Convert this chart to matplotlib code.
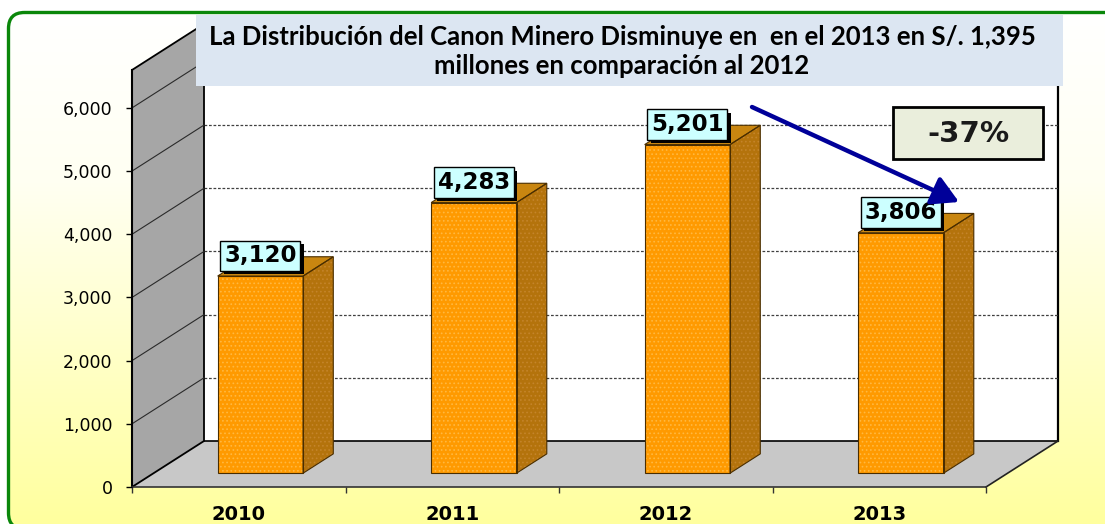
import numpy as np
import matplotlib
matplotlib.use('Agg')
import matplotlib.pyplot as plt
import matplotlib.patheffects as pe
from matplotlib.patches import Polygon, Rectangle, FancyBboxPatch
from matplotlib.ticker import FuncFormatter, FixedLocator
from matplotlib.colors import LinearSegmentedColormap
from matplotlib.transforms import IdentityTransform

# ---------------- data ----------------
years = ['2010', '2011', '2012', '2013']
values = [3120, 4283, 5201, 3806]
y_ticks = [0, 1000, 2000, 3000, 4000, 5000, 6000]
title_lines = ["La Distribución del Canon Minero Disminuye en  en el 2013 en S/. 1,395",
               "millones en comparación al 2012"]
change_label = "-37%"

# ---------------- figure ----------------
W, H = 1105, 524
fig = plt.figure(figsize=(W / 100, H / 100), dpi=100)
fig.patch.set_facecolor('white')

# background panel
bg = fig.add_axes([0, 0, 1, 1], zorder=0)
grad = np.linspace(0, 1, 256).reshape(-1, 1)
cmap = LinearSegmentedColormap.from_list('g', ['#FFFFFF', '#FFFFF2', '#FFFFC8', '#FFFF9E'])
im = bg.imshow(grad, extent=(0, W, H, 12), cmap=cmap, aspect='auto', zorder=1,
               interpolation='bilinear')
bg.set_xlim(0, W)
bg.set_ylim(H, 0)
bg.axis('off')
# rounded green frame in display pixels (origin bottom-left)
box = FancyBboxPatch((8.5, -5), 1300, H - 12.5 + 5, boxstyle='round,pad=0,rounding_size=16',
                     fc='none', ec='#0A870A', lw=2.4, zorder=2,
                     transform=IdentityTransform(), clip_on=False)
bg.add_patch(box)
im.set_clip_path(box)

# main axes = front plane of the 3D box
ax = fig.add_axes([132 / W, 37 / H, 854 / W, 417 / H], zorder=1)
YMAX = 6600
ax.set_xlim(0, len(years))
ax.set_ylim(0, YMAX)
ax.patch.set_alpha(0)

NC = len(years)
DX = 72 / 213.5            # depth offset in category units
DY = 46 * YMAX / 417       # depth offset in value units
f0, f1 = 0.30, 0.72        # bar depth range
bw = 0.40                  # bar width

# back wall
ax.add_patch(Polygon([(DX, DY), (NC + DX, DY), (NC + DX, YMAX + DY), (DX, YMAX + DY)],
                     closed=True, fc='white', ec='none', clip_on=False, zorder=0.5))
ax.plot([NC + DX, NC + DX], [DY, YMAX + DY], color='black', lw=1.6, clip_on=False, zorder=0.6)
# back-wall gridlines
for t in y_ticks[1:]:
    ax.plot([DX, NC + DX], [t + DY, t + DY], ls=(0, (2.2, 1.4)), color='#404040', lw=0.9,
            clip_on=False, zorder=0.6)
# floor
ax.add_patch(Polygon([(0, 0), (NC, 0), (NC + DX, DY), (DX, DY)], closed=True,
                     fc='#C8C8C8', ec='none', clip_on=False, zorder=0.7))
ax.plot([DX, NC + DX], [DY, DY], color='black', lw=1.2, clip_on=False, zorder=0.75)
ax.plot([NC, NC + DX], [0, DY], color='#222222', lw=1.2, clip_on=False, zorder=0.75)
# left wall
ax.add_patch(Polygon([(0, 0), (DX, DY), (DX, YMAX + DY), (0, YMAX)], closed=True,
                     fc='#A6A6A6', ec='black', lw=1.3, clip_on=False, zorder=0.8))
for t in y_ticks[1:]:
    ax.plot([0, DX], [t, t + DY], color='#2a2a2a', lw=0.8, clip_on=False, zorder=0.85)

# bars
plt.rcParams['hatch.linewidth'] = 0.7
for i, v in enumerate(values):
    cx = i + 0.5
    x0 = cx - bw / 2 + f0 * DX
    x1 = x0 + bw
    y0 = f0 * DY
    ddx = (f1 - f0) * DX
    ddy = (f1 - f0) * DY
    z = 2 + i * 0.1
    front = [(x0, y0), (x1, y0), (x1, v + y0), (x0, v + y0)]
    side = [(x1, y0), (x1 + ddx, y0 + ddy), (x1 + ddx, v + y0 + ddy), (x1, v + y0)]
    top = [(x0, v + y0), (x1, v + y0), (x1 + ddx, v + y0 + ddy), (x0 + ddx, v + y0 + ddy)]
    ax.add_patch(Polygon(front, closed=True, fc='#FF9A00', ec='none', clip_on=False, zorder=z))
    ax.add_patch(Polygon(front, closed=True, fc='none', ec='#FFB840', hatch='....', lw=0,
                         clip_on=False, zorder=z + 0.01))
    ax.add_patch(Polygon(side, closed=True, fc='#B4730C', ec='none', clip_on=False, zorder=z))
    ax.add_patch(Polygon(side, closed=True, fc='none', ec='#C4842A', hatch='....', lw=0,
                         clip_on=False, zorder=z + 0.01))
    ax.add_patch(Polygon(top, closed=True, fc='#C98610', ec='none', clip_on=False, zorder=z))
    for poly in (front, side, top):
        ax.add_patch(Polygon(poly, closed=True, fc='none', ec='#4a2e00', lw=0.8,
                             clip_on=False, zorder=z + 0.02))
    # value label with shadowed box
    lx, ly = cx + f0 * DX, v + y0
    t = ax.annotate(f"{v:,}", xy=(lx, ly), xytext=(0, 14.5), textcoords='offset points',
                    ha='center', va='center', fontsize=16.5, fontweight='bold', color='black',
                    family='DejaVu Sans',
                    bbox=dict(boxstyle='square,pad=0.16', fc='#CCFFFF', ec='black', lw=1),
                    annotation_clip=False, zorder=z + 0.04)
    t.get_bbox_patch().set_path_effects([
        pe.SimplePatchShadow(offset=(2.4, -2.4), shadow_rgbFace='black', alpha=1.0),
        pe.Normal()])

# axes / ticks
for s in ('top', 'right'):
    ax.spines[s].set_visible(False)
ax.spines['left'].set_color('black')
ax.spines['left'].set_linewidth(1.5)
ax.spines['left'].set_zorder(0.9)
ax.spines['bottom'].set_color('#333333')
ax.spines['bottom'].set_linewidth(1.2)
ax.spines['bottom'].set_zorder(0.9)

ax.yaxis.set_major_locator(FixedLocator(y_ticks))
ax.yaxis.set_major_formatter(FuncFormatter(lambda v, p: f"{v:,.0f}"))
ax.tick_params(axis='y', direction='out', length=4, width=1, color='black', pad=10,
               labelsize=12.5, labelcolor='black')
for lab in ax.get_yticklabels():
    lab.set_family('DejaVu Sans')

ax.xaxis.set_major_locator(FixedLocator(list(range(NC + 1))))
ax.xaxis.set_major_formatter(FuncFormatter(lambda v, p: ''))
ax.xaxis.set_minor_locator(FixedLocator([i + 0.5 for i in range(NC)]))
ax.set_xticklabels(years, minor=True)
ax.tick_params(axis='x', which='major', direction='out', length=4, width=1, color='#333333')
ax.tick_params(axis='x', which='minor', length=0, pad=13, labelsize=14)
for lab in ax.get_xticklabels(minor=True):
    lab.set_fontweight('bold')
    lab.set_family('DejaVu Sans')

# overlay (title box, arrow, change box) in pixel coordinates
ov = fig.add_axes([0, 0, 1, 1], zorder=3)
ov.set_xlim(0, W)
ov.set_ylim(H, 0)
ov.axis('off')
ov.patch.set_alpha(0)
ov.add_patch(Rectangle((196, 15), 867, 71, fc='#DCE6F2', ec='none'))
ov.text(622, 37, title_lines[0], ha='center', va='center', fontsize=18.5,
        fontweight='bold', family='Lato', color='black')
ov.text(622, 66, title_lines[1], ha='center', va='center', fontsize=18.5,
        fontweight='bold', family='Lato', color='black')

ov.annotate('', xy=(959, 202), xytext=(752, 107),
            arrowprops=dict(arrowstyle='-|>,head_length=0.8,head_width=0.45', lw=3.2,
                            color='#000099', shrinkA=0, shrinkB=0, mutation_scale=20))

ov.add_patch(Rectangle((893, 107), 150, 52, fc='#EAEEDC', ec='black', lw=2))
ov.text(968, 134, change_label, ha='center', va='center', fontsize=21,
        fontweight='bold', family='DejaVu Sans', color='#1a1a1a')

fig.savefig('out.png', dpi=100)
